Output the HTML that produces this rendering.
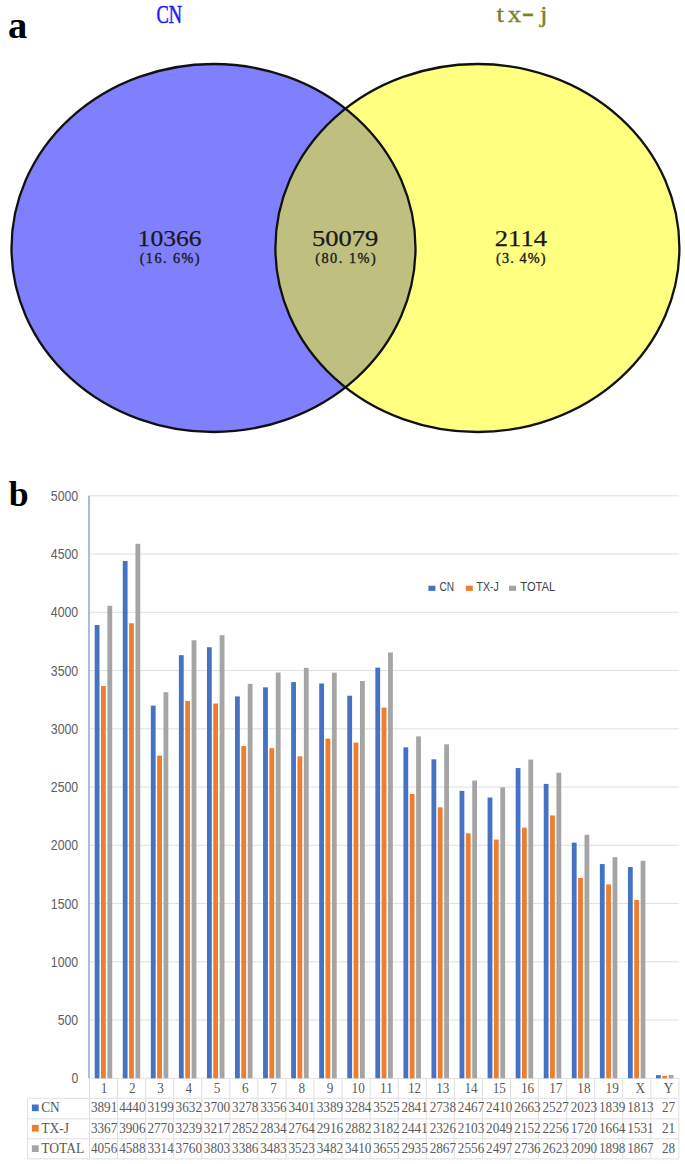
<!DOCTYPE html>
<html lang="en"><head><meta charset="utf-8"><title>Figure</title>
<style>
html,body{margin:0;padding:0;background:#fff}
body{width:685px;height:1164px;overflow:hidden}
svg{display:block}
.lbl{font-family:"Liberation Serif",serif;font-weight:bold;fill:#000}
.vn{font-family:"Liberation Serif",serif;fill:#1a1a1a}
.ax{font-family:"Liberation Sans",sans-serif;fill:#5e5e5e}
.tb{font-family:"Liberation Serif",serif;fill:#595959;font-size:15px}
.lg{font-family:"Liberation Sans",sans-serif;fill:#404040;font-size:12.5px}
</style></head><body>
<svg width="685" height="1164" viewBox="0 0 685 1164">
<rect width="685" height="1164" fill="#fff"/>
<g id="venn">
<ellipse cx="213.5" cy="248" rx="202" ry="184" fill="#8080ff" stroke="none"/>
<ellipse cx="477.4" cy="248" rx="202" ry="184" fill="#ffff80" stroke="none"/>
<clipPath id="cl"><ellipse cx="213.5" cy="248" rx="202" ry="184"/></clipPath>
<ellipse cx="477.4" cy="248" rx="202" ry="184" fill="#bfbf80" clip-path="url(#cl)"/>
<ellipse cx="213.5" cy="248" rx="202" ry="184" fill="none" stroke="#111" stroke-width="2.3"/>
<ellipse cx="477.4" cy="248" rx="202" ry="184" fill="none" stroke="#111" stroke-width="2.3"/>
<text class="lbl" x="8.0" y="38.2" font-size="38.5">a</text>
<text x="156.5" y="22.8" font-family="Liberation Serif,serif" font-size="24.5" fill="#1c1cff" stroke="#1c1cff" stroke-width="0.55" textLength="25.5" lengthAdjust="spacingAndGlyphs">CN</text>
<text transform="translate(496.2,22.3) scale(1.2,1)" font-family="Liberation Serif,serif" font-size="22.5" fill="#808020" stroke="#808020" stroke-width="0.3"><tspan x="0.3">t</tspan><tspan x="9.6">x</tspan><tspan x="21.3" font-size="31" dy="-0.8">-</tspan><tspan x="36.6" dy="0.8">j</tspan></text>
<text class="vn" x="137.6" y="246.2" font-size="22.3" stroke="#1a1a1a" stroke-width="0.25" textLength="64.0" lengthAdjust="spacingAndGlyphs">10366</text>
<text class="vn" x="139.7" y="263" font-size="14.3" stroke="#1a1a1a" stroke-width="0.35" textLength="59.8" lengthAdjust="spacing">(16. 6%)</text>
<text class="vn" x="312.0" y="246.2" font-size="22.3" stroke="#1a1a1a" stroke-width="0.25" textLength="66.3" lengthAdjust="spacingAndGlyphs">50079</text>
<text class="vn" x="315.2" y="263" font-size="14.3" stroke="#1a1a1a" stroke-width="0.35" textLength="60.5" lengthAdjust="spacing">(80. 1%)</text>
<text class="vn" x="494.8" y="246.2" font-size="22.3" stroke="#1a1a1a" stroke-width="0.25" textLength="52.2" lengthAdjust="spacingAndGlyphs">2114</text>
<text class="vn" x="496.0" y="263" font-size="14.3" stroke="#1a1a1a" stroke-width="0.35" textLength="49.6" lengthAdjust="spacing">(3. 4%)</text>
</g>
<g id="chart">
<text class="lbl" x="8.8" y="505.9" font-size="35.8">b</text>
<line x1="89.5" x2="678.9" y1="1078.30" y2="1078.30" stroke="#e0e0e0" stroke-width="1"/>
<text class="ax" x="78.2" y="1083.40" font-size="15.2" text-anchor="end" textLength="6.8" lengthAdjust="spacingAndGlyphs">0</text>
<line x1="89.5" x2="678.9" y1="1020.05" y2="1020.05" stroke="#e0e0e0" stroke-width="1"/>
<text class="ax" x="78.2" y="1025.15" font-size="15.2" text-anchor="end" textLength="20.5" lengthAdjust="spacingAndGlyphs">500</text>
<line x1="89.5" x2="678.9" y1="961.80" y2="961.80" stroke="#e0e0e0" stroke-width="1"/>
<text class="ax" x="78.2" y="966.90" font-size="15.2" text-anchor="end" textLength="27.4" lengthAdjust="spacingAndGlyphs">1000</text>
<line x1="89.5" x2="678.9" y1="903.55" y2="903.55" stroke="#e0e0e0" stroke-width="1"/>
<text class="ax" x="78.2" y="908.65" font-size="15.2" text-anchor="end" textLength="27.4" lengthAdjust="spacingAndGlyphs">1500</text>
<line x1="89.5" x2="678.9" y1="845.30" y2="845.30" stroke="#e0e0e0" stroke-width="1"/>
<text class="ax" x="78.2" y="850.40" font-size="15.2" text-anchor="end" textLength="27.4" lengthAdjust="spacingAndGlyphs">2000</text>
<line x1="89.5" x2="678.9" y1="787.05" y2="787.05" stroke="#e0e0e0" stroke-width="1"/>
<text class="ax" x="78.2" y="792.15" font-size="15.2" text-anchor="end" textLength="27.4" lengthAdjust="spacingAndGlyphs">2500</text>
<line x1="89.5" x2="678.9" y1="728.80" y2="728.80" stroke="#e0e0e0" stroke-width="1"/>
<text class="ax" x="78.2" y="733.90" font-size="15.2" text-anchor="end" textLength="27.4" lengthAdjust="spacingAndGlyphs">3000</text>
<line x1="89.5" x2="678.9" y1="670.55" y2="670.55" stroke="#e0e0e0" stroke-width="1"/>
<text class="ax" x="78.2" y="675.65" font-size="15.2" text-anchor="end" textLength="27.4" lengthAdjust="spacingAndGlyphs">3500</text>
<line x1="89.5" x2="678.9" y1="612.30" y2="612.30" stroke="#e0e0e0" stroke-width="1"/>
<text class="ax" x="78.2" y="617.40" font-size="15.2" text-anchor="end" textLength="27.4" lengthAdjust="spacingAndGlyphs">4000</text>
<line x1="89.5" x2="678.9" y1="554.05" y2="554.05" stroke="#e0e0e0" stroke-width="1"/>
<text class="ax" x="78.2" y="559.15" font-size="15.2" text-anchor="end" textLength="27.4" lengthAdjust="spacingAndGlyphs">4500</text>
<line x1="89.5" x2="678.9" y1="495.80" y2="495.80" stroke="#e0e0e0" stroke-width="1"/>
<text class="ax" x="78.2" y="500.90" font-size="15.2" text-anchor="end" textLength="27.4" lengthAdjust="spacingAndGlyphs">5000</text>
<line x1="89" x2="89" y1="495.8" y2="1078.3" stroke="#98b1de" stroke-width="1.7"/>
<rect x="94.70" y="625.00" width="4.80" height="453.30" fill="#4472c4"/>
<rect x="101.00" y="686.04" width="4.80" height="392.26" fill="#ed7d31"/>
<rect x="107.40" y="605.78" width="4.80" height="472.52" fill="#a5a5a5"/>
<rect x="122.77" y="561.04" width="4.80" height="517.26" fill="#4472c4"/>
<rect x="129.06" y="623.25" width="4.80" height="455.05" fill="#ed7d31"/>
<rect x="135.47" y="543.80" width="4.80" height="534.50" fill="#a5a5a5"/>
<rect x="150.83" y="705.62" width="4.80" height="372.68" fill="#4472c4"/>
<rect x="157.13" y="755.59" width="4.80" height="322.71" fill="#ed7d31"/>
<rect x="163.53" y="692.22" width="4.80" height="386.08" fill="#a5a5a5"/>
<rect x="178.90" y="655.17" width="4.80" height="423.13" fill="#4472c4"/>
<rect x="185.20" y="700.96" width="4.80" height="377.34" fill="#ed7d31"/>
<rect x="191.60" y="640.26" width="4.80" height="438.04" fill="#a5a5a5"/>
<rect x="206.96" y="647.25" width="4.80" height="431.05" fill="#4472c4"/>
<rect x="213.26" y="703.52" width="4.80" height="374.78" fill="#ed7d31"/>
<rect x="219.66" y="635.25" width="4.80" height="443.05" fill="#a5a5a5"/>
<rect x="235.03" y="696.41" width="4.80" height="381.89" fill="#4472c4"/>
<rect x="241.33" y="746.04" width="4.80" height="332.26" fill="#ed7d31"/>
<rect x="247.73" y="683.83" width="4.80" height="394.47" fill="#a5a5a5"/>
<rect x="263.09" y="687.33" width="4.80" height="390.97" fill="#4472c4"/>
<rect x="269.39" y="748.14" width="4.80" height="330.16" fill="#ed7d31"/>
<rect x="275.79" y="672.53" width="4.80" height="405.77" fill="#a5a5a5"/>
<rect x="291.16" y="682.08" width="4.80" height="396.22" fill="#4472c4"/>
<rect x="297.46" y="756.29" width="4.80" height="322.01" fill="#ed7d31"/>
<rect x="303.86" y="667.87" width="4.80" height="410.43" fill="#a5a5a5"/>
<rect x="319.22" y="683.48" width="4.80" height="394.82" fill="#4472c4"/>
<rect x="325.52" y="738.59" width="4.80" height="339.71" fill="#ed7d31"/>
<rect x="331.92" y="672.65" width="4.80" height="405.65" fill="#a5a5a5"/>
<rect x="347.29" y="695.71" width="4.80" height="382.59" fill="#4472c4"/>
<rect x="353.59" y="742.55" width="4.80" height="335.75" fill="#ed7d31"/>
<rect x="359.99" y="681.03" width="4.80" height="397.27" fill="#a5a5a5"/>
<rect x="375.35" y="667.64" width="4.80" height="410.66" fill="#4472c4"/>
<rect x="381.65" y="707.60" width="4.80" height="370.70" fill="#ed7d31"/>
<rect x="388.05" y="652.49" width="4.80" height="425.81" fill="#a5a5a5"/>
<rect x="403.42" y="747.32" width="4.80" height="330.98" fill="#4472c4"/>
<rect x="409.72" y="793.92" width="4.80" height="284.38" fill="#ed7d31"/>
<rect x="416.12" y="736.37" width="4.80" height="341.93" fill="#a5a5a5"/>
<rect x="431.48" y="759.32" width="4.80" height="318.98" fill="#4472c4"/>
<rect x="437.78" y="807.32" width="4.80" height="270.98" fill="#ed7d31"/>
<rect x="444.18" y="744.29" width="4.80" height="334.01" fill="#a5a5a5"/>
<rect x="459.55" y="790.89" width="4.80" height="287.41" fill="#4472c4"/>
<rect x="465.85" y="833.30" width="4.80" height="245.00" fill="#ed7d31"/>
<rect x="472.25" y="780.53" width="4.80" height="297.77" fill="#a5a5a5"/>
<rect x="487.61" y="797.53" width="4.80" height="280.77" fill="#4472c4"/>
<rect x="493.91" y="839.59" width="4.80" height="238.71" fill="#ed7d31"/>
<rect x="500.31" y="787.40" width="4.80" height="290.90" fill="#a5a5a5"/>
<rect x="515.68" y="768.06" width="4.80" height="310.24" fill="#4472c4"/>
<rect x="521.98" y="827.59" width="4.80" height="250.71" fill="#ed7d31"/>
<rect x="528.38" y="759.56" width="4.80" height="318.74" fill="#a5a5a5"/>
<rect x="543.74" y="783.90" width="4.80" height="294.40" fill="#4472c4"/>
<rect x="550.04" y="815.48" width="4.80" height="262.82" fill="#ed7d31"/>
<rect x="556.44" y="772.72" width="4.80" height="305.58" fill="#a5a5a5"/>
<rect x="571.81" y="842.62" width="4.80" height="235.68" fill="#4472c4"/>
<rect x="578.11" y="877.92" width="4.80" height="200.38" fill="#ed7d31"/>
<rect x="584.50" y="834.81" width="4.80" height="243.49" fill="#a5a5a5"/>
<rect x="599.87" y="864.06" width="4.80" height="214.24" fill="#4472c4"/>
<rect x="606.17" y="884.44" width="4.80" height="193.86" fill="#ed7d31"/>
<rect x="612.57" y="857.18" width="4.80" height="221.12" fill="#a5a5a5"/>
<rect x="627.94" y="867.09" width="4.80" height="211.21" fill="#4472c4"/>
<rect x="634.24" y="899.94" width="4.80" height="178.36" fill="#ed7d31"/>
<rect x="640.63" y="860.79" width="4.80" height="217.51" fill="#a5a5a5"/>
<rect x="656.00" y="1075.15" width="4.80" height="3.15" fill="#4472c4"/>
<rect x="662.30" y="1075.85" width="4.80" height="2.45" fill="#ed7d31"/>
<rect x="668.70" y="1075.04" width="4.80" height="3.26" fill="#a5a5a5"/>
<rect x="428.4" y="585.7" width="7" height="5.2" fill="#4472c4"/>
<text class="lg" x="439.4" y="591.1" textLength="14.6" lengthAdjust="spacingAndGlyphs">CN</text>
<rect x="465.8" y="585.7" width="7" height="5.2" fill="#ed7d31"/>
<text class="lg" x="476.5" y="591.1" textLength="22.2" lengthAdjust="spacingAndGlyphs">TX-J</text>
<rect x="509.0" y="585.7" width="7" height="5.2" fill="#a5a5a5"/>
<text class="lg" x="520.3" y="591.1" textLength="35.0" lengthAdjust="spacingAndGlyphs">TOTAL</text>
</g>
<g id="table">
<line x1="27.6" x2="678.9" y1="1098.3" y2="1098.3" stroke="#e0e0e0" stroke-width="1"/>
<line x1="27.6" x2="678.9" y1="1118.9" y2="1118.9" stroke="#e0e0e0" stroke-width="1"/>
<line x1="27.6" x2="678.9" y1="1138.8" y2="1138.8" stroke="#e0e0e0" stroke-width="1"/>
<line x1="27.6" x2="678.9" y1="1158.9" y2="1158.9" stroke="#e0e0e0" stroke-width="1"/>
<line x1="27.6" x2="27.6" y1="1098.3" y2="1158.9" stroke="#e0e0e0" stroke-width="1"/>
<line x1="89.50" x2="89.50" y1="1078.3" y2="1158.9" stroke="#e0e0e0" stroke-width="1"/>
<line x1="117.56" x2="117.56" y1="1078.3" y2="1158.9" stroke="#e0e0e0" stroke-width="1"/>
<line x1="145.63" x2="145.63" y1="1078.3" y2="1158.9" stroke="#e0e0e0" stroke-width="1"/>
<line x1="173.69" x2="173.69" y1="1078.3" y2="1158.9" stroke="#e0e0e0" stroke-width="1"/>
<line x1="201.76" x2="201.76" y1="1078.3" y2="1158.9" stroke="#e0e0e0" stroke-width="1"/>
<line x1="229.83" x2="229.83" y1="1078.3" y2="1158.9" stroke="#e0e0e0" stroke-width="1"/>
<line x1="257.89" x2="257.89" y1="1078.3" y2="1158.9" stroke="#e0e0e0" stroke-width="1"/>
<line x1="285.96" x2="285.96" y1="1078.3" y2="1158.9" stroke="#e0e0e0" stroke-width="1"/>
<line x1="314.02" x2="314.02" y1="1078.3" y2="1158.9" stroke="#e0e0e0" stroke-width="1"/>
<line x1="342.09" x2="342.09" y1="1078.3" y2="1158.9" stroke="#e0e0e0" stroke-width="1"/>
<line x1="370.15" x2="370.15" y1="1078.3" y2="1158.9" stroke="#e0e0e0" stroke-width="1"/>
<line x1="398.22" x2="398.22" y1="1078.3" y2="1158.9" stroke="#e0e0e0" stroke-width="1"/>
<line x1="426.28" x2="426.28" y1="1078.3" y2="1158.9" stroke="#e0e0e0" stroke-width="1"/>
<line x1="454.35" x2="454.35" y1="1078.3" y2="1158.9" stroke="#e0e0e0" stroke-width="1"/>
<line x1="482.41" x2="482.41" y1="1078.3" y2="1158.9" stroke="#e0e0e0" stroke-width="1"/>
<line x1="510.48" x2="510.48" y1="1078.3" y2="1158.9" stroke="#e0e0e0" stroke-width="1"/>
<line x1="538.54" x2="538.54" y1="1078.3" y2="1158.9" stroke="#e0e0e0" stroke-width="1"/>
<line x1="566.61" x2="566.61" y1="1078.3" y2="1158.9" stroke="#e0e0e0" stroke-width="1"/>
<line x1="594.67" x2="594.67" y1="1078.3" y2="1158.9" stroke="#e0e0e0" stroke-width="1"/>
<line x1="622.74" x2="622.74" y1="1078.3" y2="1158.9" stroke="#e0e0e0" stroke-width="1"/>
<line x1="650.80" x2="650.80" y1="1078.3" y2="1158.9" stroke="#e0e0e0" stroke-width="1"/>
<line x1="678.87" x2="678.87" y1="1078.3" y2="1158.9" stroke="#e0e0e0" stroke-width="1"/>
<g class="tb" transform="scale(0.88,1)" text-anchor="middle">
<text x="118.32" y="1092.8">1</text>
<text x="150.40" y="1092.8">2</text>
<text x="182.47" y="1092.8">3</text>
<text x="214.55" y="1092.8">4</text>
<text x="246.62" y="1092.8">5</text>
<text x="278.69" y="1092.8">6</text>
<text x="310.77" y="1092.8">7</text>
<text x="342.84" y="1092.8">8</text>
<text x="374.92" y="1092.8">9</text>
<text x="406.99" y="1092.8">10</text>
<text x="439.07" y="1092.8">11</text>
<text x="471.14" y="1092.8">12</text>
<text x="503.21" y="1092.8">13</text>
<text x="535.29" y="1092.8">14</text>
<text x="567.36" y="1092.8">15</text>
<text x="599.44" y="1092.8">16</text>
<text x="631.51" y="1092.8">17</text>
<text x="663.59" y="1092.8">18</text>
<text x="695.66" y="1092.8">19</text>
<text x="727.73" y="1092.8">X</text>
<text x="759.81" y="1092.8">Y</text>
<text x="118.32" y="1112.4">3891</text>
<text x="150.40" y="1112.4">4440</text>
<text x="182.47" y="1112.4">3199</text>
<text x="214.55" y="1112.4">3632</text>
<text x="246.62" y="1112.4">3700</text>
<text x="278.69" y="1112.4">3278</text>
<text x="310.77" y="1112.4">3356</text>
<text x="342.84" y="1112.4">3401</text>
<text x="374.92" y="1112.4">3389</text>
<text x="406.99" y="1112.4">3284</text>
<text x="439.07" y="1112.4">3525</text>
<text x="471.14" y="1112.4">2841</text>
<text x="503.21" y="1112.4">2738</text>
<text x="535.29" y="1112.4">2467</text>
<text x="567.36" y="1112.4">2410</text>
<text x="599.44" y="1112.4">2663</text>
<text x="631.51" y="1112.4">2527</text>
<text x="663.59" y="1112.4">2023</text>
<text x="695.66" y="1112.4">1839</text>
<text x="727.73" y="1112.4">1813</text>
<text x="759.81" y="1112.4">27</text>
<text x="118.32" y="1132.8">3367</text>
<text x="150.40" y="1132.8">3906</text>
<text x="182.47" y="1132.8">2770</text>
<text x="214.55" y="1132.8">3239</text>
<text x="246.62" y="1132.8">3217</text>
<text x="278.69" y="1132.8">2852</text>
<text x="310.77" y="1132.8">2834</text>
<text x="342.84" y="1132.8">2764</text>
<text x="374.92" y="1132.8">2916</text>
<text x="406.99" y="1132.8">2882</text>
<text x="439.07" y="1132.8">3182</text>
<text x="471.14" y="1132.8">2441</text>
<text x="503.21" y="1132.8">2326</text>
<text x="535.29" y="1132.8">2103</text>
<text x="567.36" y="1132.8">2049</text>
<text x="599.44" y="1132.8">2152</text>
<text x="631.51" y="1132.8">2256</text>
<text x="663.59" y="1132.8">1720</text>
<text x="695.66" y="1132.8">1664</text>
<text x="727.73" y="1132.8">1531</text>
<text x="759.81" y="1132.8">21</text>
<text x="118.32" y="1153.2">4056</text>
<text x="150.40" y="1153.2">4588</text>
<text x="182.47" y="1153.2">3314</text>
<text x="214.55" y="1153.2">3760</text>
<text x="246.62" y="1153.2">3803</text>
<text x="278.69" y="1153.2">3386</text>
<text x="310.77" y="1153.2">3483</text>
<text x="342.84" y="1153.2">3523</text>
<text x="374.92" y="1153.2">3482</text>
<text x="406.99" y="1153.2">3410</text>
<text x="439.07" y="1153.2">3655</text>
<text x="471.14" y="1153.2">2935</text>
<text x="503.21" y="1153.2">2867</text>
<text x="535.29" y="1153.2">2556</text>
<text x="567.36" y="1153.2">2497</text>
<text x="599.44" y="1153.2">2736</text>
<text x="631.51" y="1153.2">2623</text>
<text x="663.59" y="1153.2">2090</text>
<text x="695.66" y="1153.2">1898</text>
<text x="727.73" y="1153.2">1867</text>
<text x="759.81" y="1153.2">28</text>
</g>
<rect x="31.9" y="1104.5" width="6.8" height="6.7" fill="#4472c4"/>
<text class="tb" font-size="15.6" x="41.2" y="1112.4" textLength="18.6" lengthAdjust="spacingAndGlyphs">CN</text>
<rect x="31.9" y="1124.9" width="6.8" height="6.7" fill="#ed7d31"/>
<text class="tb" font-size="15.6" x="41.2" y="1132.8" textLength="27.8" lengthAdjust="spacingAndGlyphs">TX-J</text>
<rect x="31.9" y="1145.3" width="6.8" height="6.7" fill="#a5a5a5"/>
<text class="tb" font-size="15.6" x="41.2" y="1153.2" textLength="43.2" lengthAdjust="spacingAndGlyphs">TOTAL</text>
</g>
</svg>
</body></html>
